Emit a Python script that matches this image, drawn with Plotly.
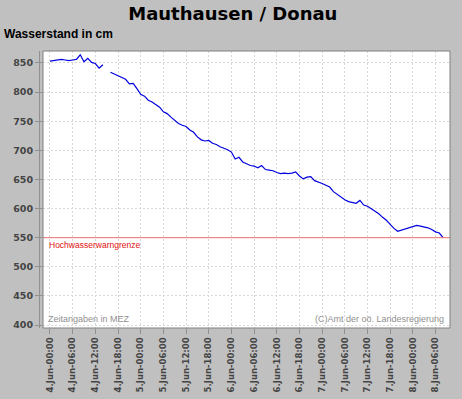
import pandas as pd
import plotly.graph_objects as go

# ---- data ----
start_time = "2013-06-04 00:00"
levels_cm = [
    853, 854, 855, 856, 855, 854, 855, 856, 864, 852,
    858, 851, 849, 841, 847, None, 834, 831, 828, 825,
    822, 814, 815, 806, 796, 793, 786, 783, 778, 774,
    766, 763, 757, 752, 746, 743, 741, 735, 731, 723,
    718, 716, 717, 712, 710, 706, 704, 701, 697, 685,
    688, 680, 677, 674, 673, 670, 674, 667, 666, 665,
    662, 660, 661, 660, 661, 663, 656, 651, 654, 655,
    648, 646, 643, 640, 637, 629, 624, 619, 615, 612,
    611, 609, 614, 606, 604, 600, 596, 591, 585, 580,
    573, 566, 561, 563, 565, 567, 569, 571, 570, 569,
    567, 564, 560, 558, 550,
]
times = pd.date_range(start_time, periods=len(levels_cm), freq="h")
warn_level = 550
title_text = "Mauthausen / Donau"
subtitle_text = "Wasserstand in cm"
warn_text = "Hochwasserwarngrenze"
note_left = "Zeitangaben in MEZ"
note_right = "(C)Amt der oö. Landesregierung"
y_range = [395, 870.5]
x_range = ["2013-06-03 22:09", "2013-06-08 09:50"]

fig = go.Figure()
fig.add_trace(go.Scatter(
    x=times, y=levels_cm, mode="lines",
    line=dict(color="#0000e0", width=1.2),
    connectgaps=False, hoverinfo="skip", showlegend=False,
))

fig.add_shape(type="line", xref="paper", x0=0, x1=1, yref="y", y0=warn_level, y1=warn_level,
              line=dict(color="#f07070", width=1))
fig.add_shape(type="rect", xref="paper", yref="paper", x0=0, x1=1, y0=0, y1=1,
              line=dict(color="#808080", width=1))
# offset axis line
fig.add_shape(type="line", xref="paper", yref="paper", x0=-0.0085, x1=-0.0085, y0=0, y1=1,
              line=dict(color="#909090", width=1))

tick_font = dict(family="DejaVu Sans", size=9.5, color="#444444", weight="bold")

fig.update_layout(
    width=462, height=399,
    margin=dict(l=43, r=12, t=51, b=71, autoexpand=False),
    paper_bgcolor="#c0c0c0", plot_bgcolor="#ffffff",
    title=dict(text=title_text, x=0.504, xanchor="center", y=0.965, yanchor="middle",
               font=dict(family="DejaVu Sans", size=18, color="#000000", weight="bold")),
    xaxis=dict(
        type="date", range=x_range, automargin=False,
        tick0="2013-06-04 00:00", dtick=6 * 3600 * 1000,
        tickformat="%-d.%b-%H:%M", tickangle=-90,
        tickfont=dict(family="DejaVu Sans", size=8.5, color="#444444", weight="bold"),
        ticks="outside", ticklen=5, tickcolor="#909090",
        showgrid=True, gridcolor="#d8d8d8", griddash="2px,2px", gridwidth=1,
        showline=False, zeroline=False,
    ),
    yaxis=dict(
        range=y_range, tick0=400, dtick=50, automargin=False,
        tickfont=tick_font,
        ticks="outside", ticklen=7, tickcolor="#909090",
        showgrid=True, gridcolor="#d8d8d8", griddash="2px,2px", gridwidth=1,
        showline=False, zeroline=False,
    ),
    annotations=[
        dict(text=subtitle_text, xref="paper", yref="paper", x=-0.1007, y=1.063,
             xanchor="left", yanchor="middle", showarrow=False,
             font=dict(family="Liberation Sans", size=12, color="#000000", weight="bold")),
        dict(text=warn_text, xref="paper", yref="y", x=0.0086, y=warn_level,
             xanchor="left", yanchor="top", showarrow=False,
             font=dict(family="Liberation Sans", size=8.5, color="#e01010")),
        dict(text=note_left, xref="paper", yref="paper", x=0.007, y=0,
             xanchor="left", yanchor="bottom", yshift=2, showarrow=False,
             font=dict(family="Liberation Sans", size=9, color="#909090")),
        dict(text=note_right, xref="paper", yref="paper", x=0.990, y=0,
             xanchor="right", yanchor="bottom", yshift=2, showarrow=False,
             font=dict(family="Liberation Sans", size=9, color="#909090")),
    ],
)

fig.write_html("out.html", config={"displayModeBar": False},
               post_script="document.body.style.margin='0';")
